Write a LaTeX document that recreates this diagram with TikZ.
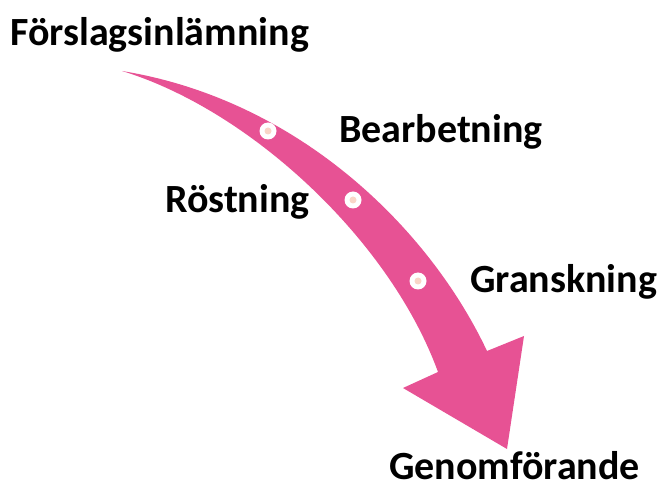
\documentclass[tikz,border=0pt]{standalone}
\usepackage{fontspec}
\setmainfont{Carlito}
\usepackage{tikz}
\usetikzlibrary{calc}
\definecolor{arrowpink}{RGB}{231,82,148}
\definecolor{dotpeach}{RGB}{249,214,200}
\newcommand{\stagedot}[3]{\fill[white] ( #1 , #2 ) circle (8.5); \fill[dotpeach] ( #1 , #2 ) circle (3.5); \coordinate (#3) at ( #1 , #2 );}
\tikzset{steplabel/.style={anchor=base west, inner sep=0pt, font=\fontsize{40}{48}\selectfont\bfseries}}

\begin{document}
\begin{tikzpicture}[x=1pt, y=-1pt]
    \useasboundingbox (0,0) rectangle (659,486);
    % arrow body
    \fill[arrowpink] (122,71) .. controls (300,100) and (430,230) .. (487,351)
        -- (524,336) -- (507,449) -- (403,388) -- (438,372)
        .. controls (390,240) and (250,110) .. (122,71) -- cycle;
    % dots
    \stagedot{268}{131}{d1}
    \stagedot{353}{200}{d2}
    \stagedot{418}{281}{d3}
    % labels
    \node[steplabel] (forslag) at (10,46) {Förslagsinlämning};
    \node[steplabel] (bearb) at (339,143) {Bearbetning};
    \node[steplabel] (rost) at (165,213) {Röstning};
    \node[steplabel] (gransk) at (470,293) {Granskning};
    \node[steplabel] (genom) at (389,479) {Genomförande};
\end{tikzpicture}
\end{document}
